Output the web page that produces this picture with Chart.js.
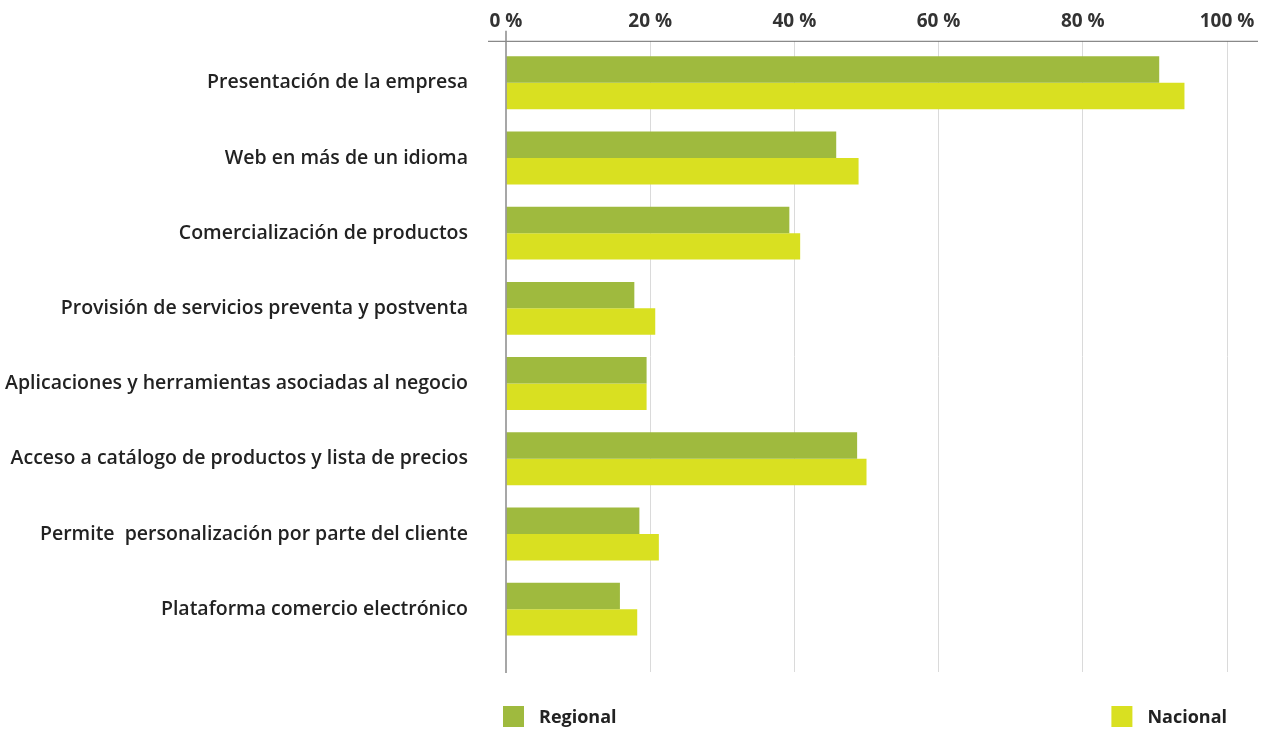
<!DOCTYPE html>
<html lang="es">
<head>
<meta charset="utf-8">
<title>Funcionalidades de la web</title>
<script src="https://cdn.jsdelivr.net/npm/chart.js@4"></script>
<style>
  html, body { margin: 0; padding: 0; background: #fff; }
  #wrap { width: 1268px; height: 729px; position: relative; }
</style>
</head>
<body>
<div id="wrap"><canvas id="chartWeb"></canvas></div>
<script>
// Funcionalidades de la web: Regional vs Nacional (% de empresas)
const categories = [
  'Presentación de la empresa',
  'Web en más de un idioma',
  'Comercialización de productos',
  'Provisión de servicios preventa y postventa',
  'Aplicaciones y herramientas asociadas al negocio',
  'Acceso a catálogo de productos y lista de precios',
  'Permite  personalización por parte del cliente',
  'Plataforma comercio electrónico'
];
const regional = [90.6, 45.8, 39.3, 17.8, 19.5, 48.7, 18.5, 15.8];
const nacional = [94.1, 48.9, 40.8, 20.7, 19.5, 50.0, 21.2, 18.2];
const xTicks = [0, 20, 40, 60, 80, 100];
const seriesNames = ['Regional', 'Nacional'];
const seriesColors = ['#9fba3e', '#d9e021'];

const FONT = '"Open Sans", "DejaVu Sans", sans-serif';
const TEXT = '#222';

// bars are placed by category index on a linear axis
const toPoints = arr => arr.map((v, i) => ({x: v, y: i}));

// axis rules and the split legend under the plot
const framePlugin = {
  id: 'frame',
  afterDatasetsDraw(chart) {
    const {ctx, chartArea: a, scales: {x}} = chart;
    ctx.save();
    ctx.strokeStyle = '#6b6b6b';
    ctx.lineWidth = 1;
    ctx.beginPath();
    ctx.moveTo(a.left - 18, a.top + 0.5);
    ctx.lineTo(a.right + 31, a.top + 0.5);
    ctx.stroke();
    ctx.strokeStyle = '#8a8a8a';
    ctx.lineWidth = 1.5;
    const x0 = x.getPixelForValue(0);
    ctx.beginPath();
    ctx.moveTo(x0, a.top - 10);
    ctx.lineTo(x0, a.bottom + 1);
    ctx.stroke();
    ctx.restore();
  },
  afterDraw(chart) {
    const {ctx, chartArea: a, scales: {x}} = chart;
    const box = 21, gap = 15, top = a.bottom + 34;
    ctx.save();
    ctx.font = '700 18px ' + FONT;
    ctx.textBaseline = 'middle';
    chart.data.datasets.forEach((ds, i) => {
      const w = ctx.measureText(ds.label).width;
      const left = i === 0 ? a.left - 3 : x.getPixelForValue(100) - w - gap - box;
      ctx.fillStyle = ds.backgroundColor;
      ctx.fillRect(left, top, box, box);
      ctx.fillStyle = TEXT;
      ctx.textAlign = 'left';
      ctx.fillText(ds.label, left + box + gap, top + box / 2 + 1);
    });
    ctx.restore();
  }
};

new Chart(document.getElementById('chartWeb'), {
  type: 'bar',
  data: {
    datasets: [
      {label: seriesNames[0], data: toPoints(regional), backgroundColor: seriesColors[0]},
      {label: seriesNames[1], data: toPoints(nacional), backgroundColor: seriesColors[1]}
    ]
  },
  options: {
    indexAxis: 'y',
    responsive: true,
    maintainAspectRatio: false,
    animation: false,
    layout: {padding: {top: 2, right: 41, bottom: 57, left: 0}},
    datasets: {bar: {categoryPercentage: 0.704, barPercentage: 1}},
    scales: {
      x: {
        type: 'linear',
        position: 'top',
        min: 0,
        max: 100,
        afterBuildTicks: s => { s.ticks = xTicks.map(v => ({value: v})); },
        border: {display: false},
        grid: {
          drawTicks: false,
          color: c => c.tick && c.tick.value === 0 ? 'rgba(0,0,0,0)' : '#dadada',
          lineWidth: 1
        },
        ticks: {
          padding: 8,
          color: '#333',
          font: {family: FONT, size: 19, weight: '700'},
          callback: v => v + ' %'
        }
      },
      y: {
        type: 'linear',
        reverse: true,
        offset: false,
        min: -0.558,
        max: 7.836,
        afterBuildTicks: s => { s.ticks = categories.map((_, i) => ({value: i})); },
        // fixed label column; the wide label gap must not pad the plot vertically
        afterFit: s => { s.width = 506; s.paddingTop = 0; s.paddingBottom = 0; },
        border: {display: false},
        grid: {display: false, drawTicks: false, offset: false},
        ticks: {
          padding: 38,
          color: TEXT,
          font: {family: FONT, size: 19.5, weight: '600'},
          callback: v => categories[v] || ''
        }
      }
    },
    plugins: {
      legend: {display: false},
      tooltip: {enabled: false}
    }
  },
  plugins: [framePlugin]
});
</script>
</body>
</html>
